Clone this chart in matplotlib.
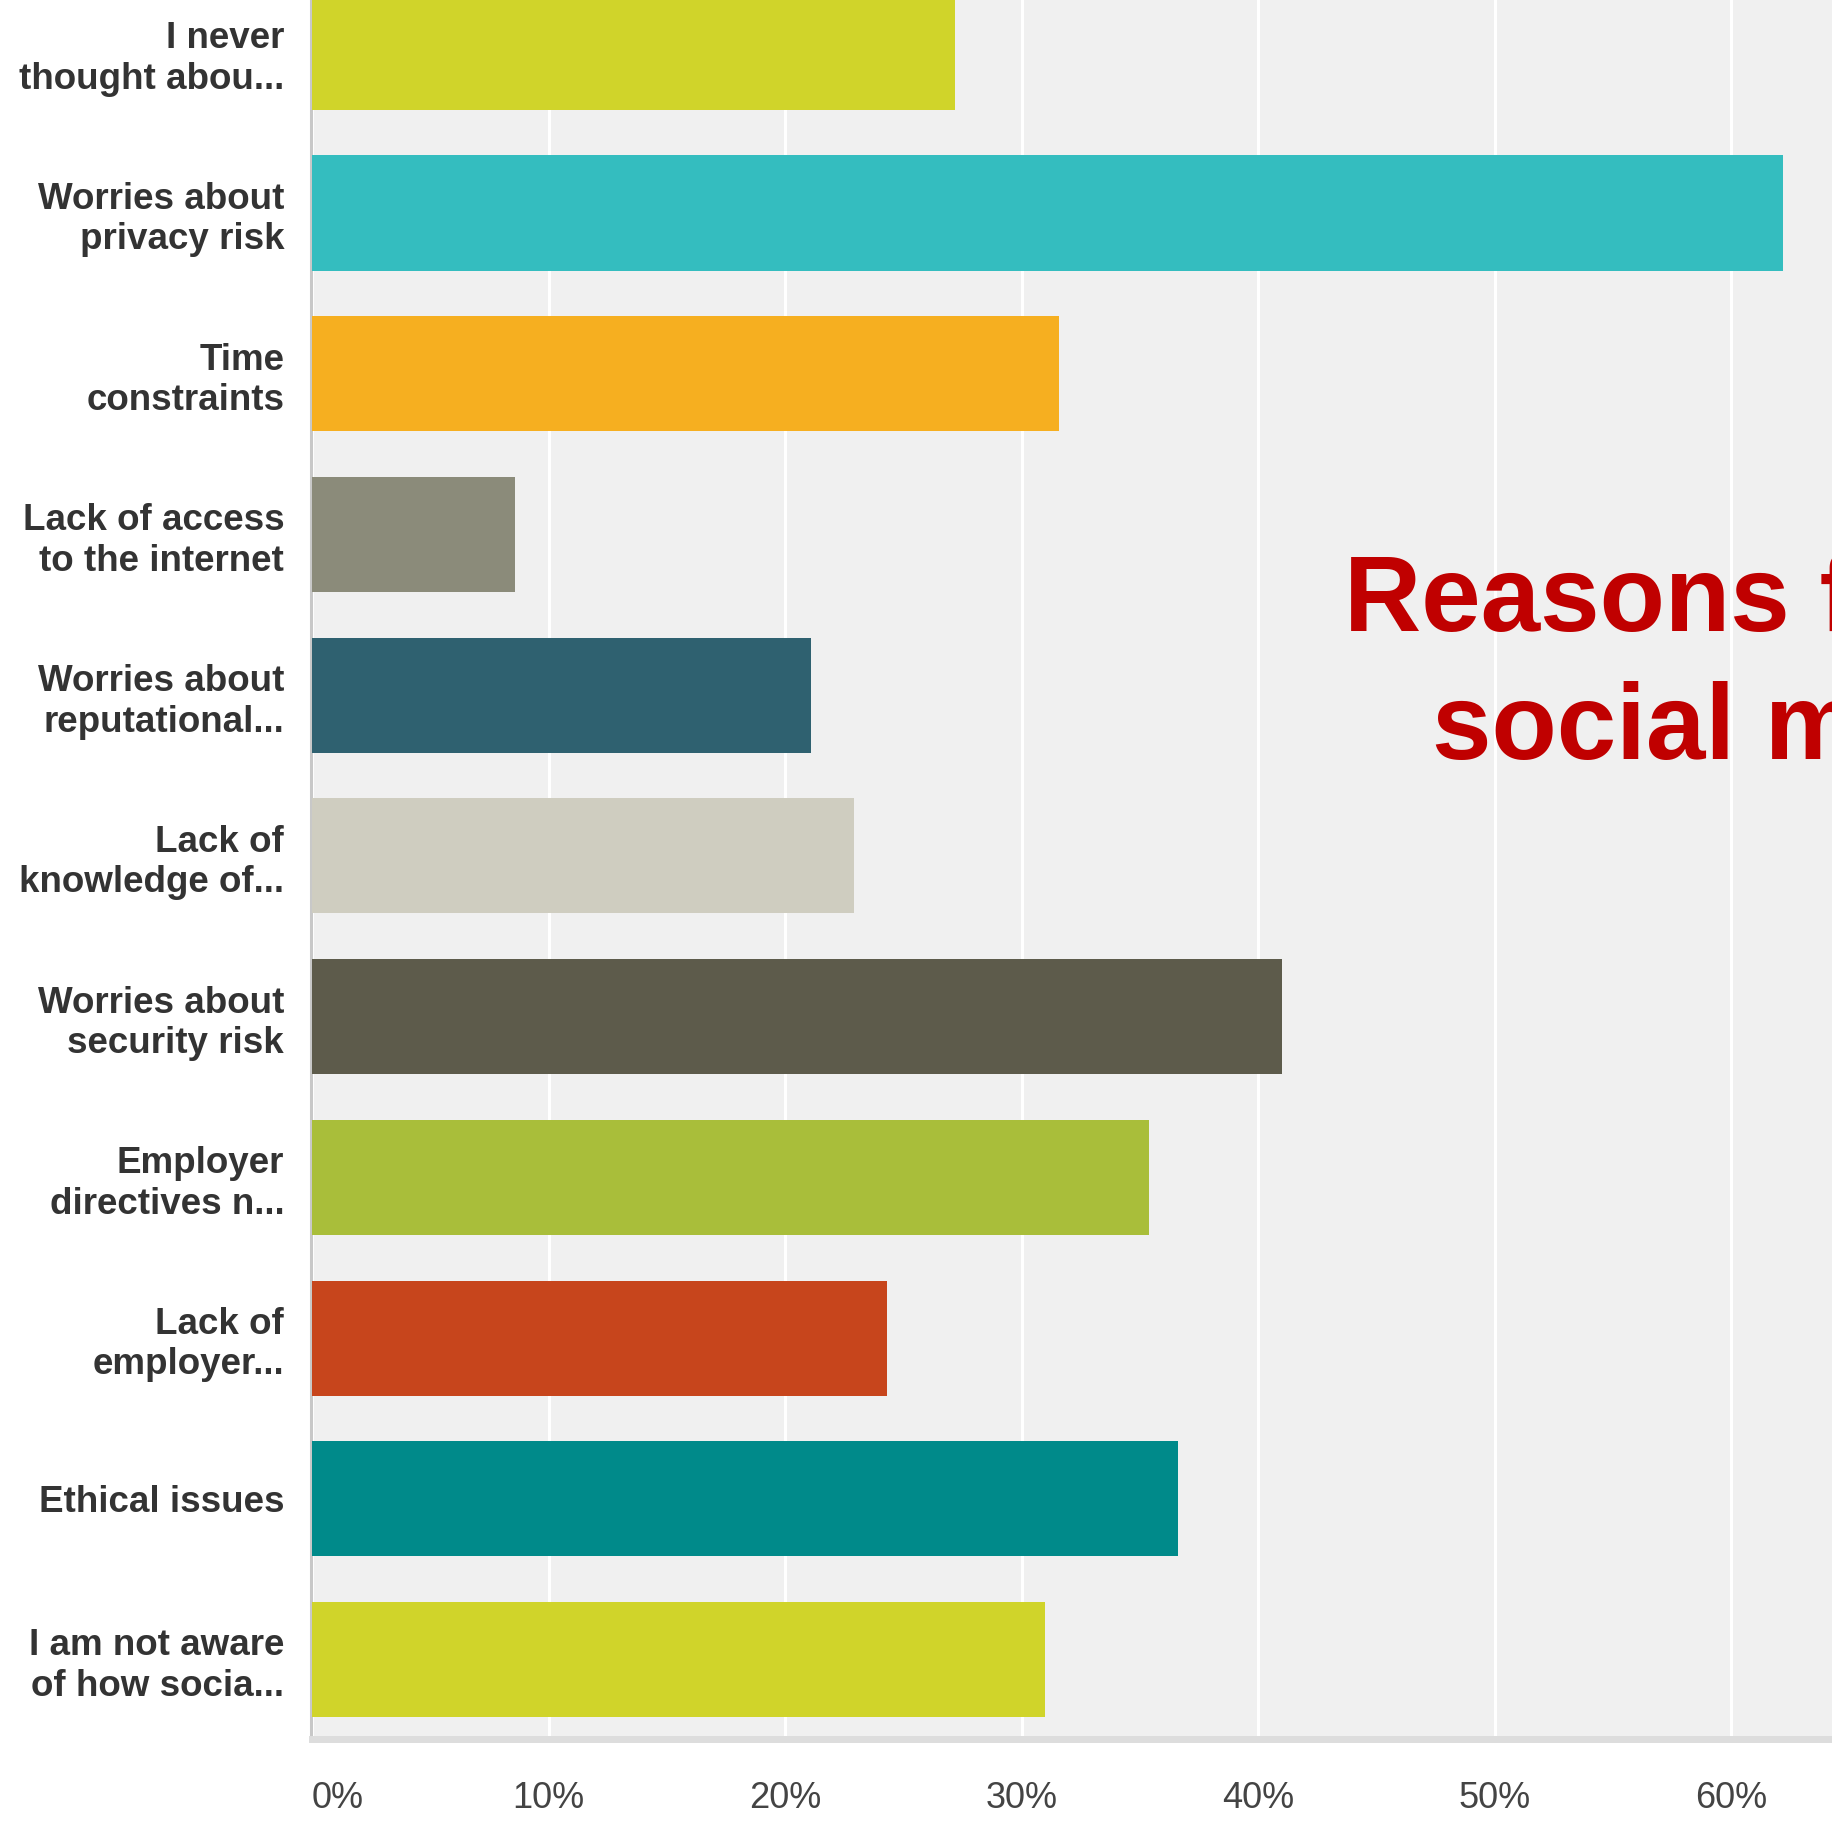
import matplotlib.pyplot as plt

plt.rcParams['font.family'] = ['Liberation Sans', 'DejaVu Sans']

# Data
labels = ["I never\nthought abou...", "Worries about\nprivacy risk", "Time\nconstraints",
          "Lack of access\nto the internet", "Worries about\nreputational...", "Lack of\nknowledge of...",
          "Worries about\nsecurity risk", "Employer\ndirectives n...", "Lack of\nemployer...",
          "Ethical issues", "I am not aware\nof how socia..."]
values = [27.2, 62.2, 31.6, 8.6, 21.1, 22.9, 41.0, 35.4, 24.3, 36.6, 31.0]
colors = ['#d0d42a', '#34bdbf', '#f6af20', '#8b8b7a', '#2f6170', '#cfcdc0',
          '#5d5b4b', '#a9be3a', '#c7451c', '#008a8a', '#d0d42a']
x_ticks = [0, 10, 20, 30, 40, 50, 60]
x_ticklabels = ['0%', '10%', '20%', '30%', '40%', '50%', '60%']

fig = plt.figure(figsize=(18.32, 18.23), dpi=100)
ax = fig.add_axes([312/1832, 1 - 1736/1823, 1 - 312/1832, 1736/1823])
ax.set_facecolor('#f0f0f0')

# spines first: set_position resets the ticks
for s in ['top', 'right']:
    ax.spines[s].set_visible(False)
ax.spines['left'].set_color('#c8c8c8')
ax.spines['left'].set_linewidth(2.2)
ax.spines['left'].set_position(('outward', 1))
ax.spines['bottom'].set_color('#dddddd')
ax.spines['bottom'].set_linewidth(5)
ax.spines['bottom'].set_position(('outward', 2.5))

ypos = list(range(len(labels)))
ax.barh(ypos, values, height=0.716, color=colors, zorder=3)

ax.set_xlim(0, 64.27)
ax.set_ylim(10.476, -0.325)

ax.grid(axis='x', color='white', linewidth=2.2, zorder=1)
ax.set_axisbelow(True)

ax.tick_params(axis='x', length=0, pad=30)
ax.tick_params(axis='y', length=0, pad=19)
ax.set_xticks(x_ticks)
ax.set_xticklabels(x_ticklabels, fontsize=26, color='#444444')
ax.get_xticklabels()[0].set_ha('left')
ax.set_yticks(ypos)
ax.set_yticklabels(labels, fontsize=26.5, fontweight='bold', color='#333333', linespacing=1.2)

# overlaid title, cut off at the right edge
fig.text(1344/1832, 1 - 631/1823, "Reasons for not using", fontsize=77, fontweight='bold',
         color='#c00000', ha='left', va='baseline')
fig.text(1432/1832, 1 - 759/1823, "social media", fontsize=77, fontweight='bold',
         color='#c00000', ha='left', va='baseline')

fig.savefig('out.png', dpi=100)
